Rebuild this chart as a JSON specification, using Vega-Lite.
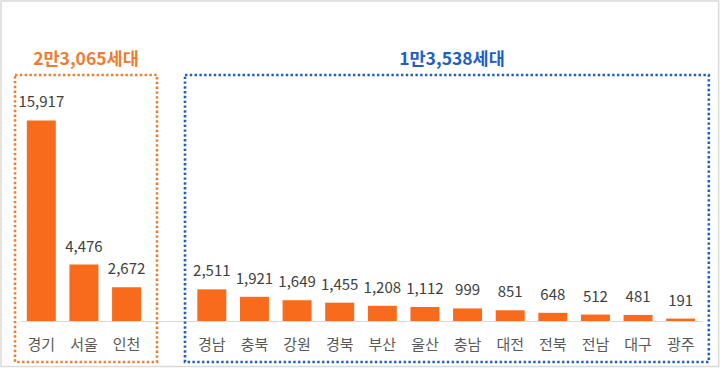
{
  "$schema": "https://vega.github.io/schema/vega-lite/v6.json",
  "autosize": {"type": "none"},
  "width": 682,
  "height": 252,
  "padding": {"left": 20, "top": 69, "right": 18, "bottom": 47},
  "background": "white",
  "config": {
    "view": {"stroke": null},
    "font": "Noto Sans CJK KR"
  },
  "datasets": {
    "bars": [
      {"region": "경기", "households": 15917},
      {"region": "서울", "households": 4476},
      {"region": "인천", "households": 2672},
      {"region": "경남", "households": 2511},
      {"region": "충북", "households": 1921},
      {"region": "강원", "households": 1649},
      {"region": "경북", "households": 1455},
      {"region": "부산", "households": 1208},
      {"region": "울산", "households": 1112},
      {"region": "충남", "households": 999},
      {"region": "대전", "households": 851},
      {"region": "전북", "households": 648},
      {"region": "전남", "households": 512},
      {"region": "대구", "households": 481},
      {"region": "광주", "households": 191}
    ],
    "groups": [
      {"group": "수도권", "x0": -0.117, "x1": 3.214, "y0": -3254, "y1": 19524, "tx": 1.548, "ty": 20714, "title": "2만3,065세대"},
      {"group": "지방", "x0": 3.871, "x1": 16.16, "y0": -3254, "y1": 19524, "tx": 10.135, "ty": 20714, "title": "1만3,538세대"}
    ],
    "frame": [
      {"x0": -0.446, "x1": 16.39, "y0": -3611, "y1": 25397}
    ]
  },
  "layer": [
    {
      "layer": [
        {
          "data": {"name": "bars"},
          "mark": {"type": "bar", "color": "#F96B1C"},
          "encoding": {
            "x": {
              "field": "region",
              "type": "nominal",
              "sort": null,
              "scale": {
                "domain": ["경기", "서울", "인천", " ", "경남", "충북", "강원", "경북", "부산", "울산", "충남", "대전", "전북", "전남", "대구", "광주"],
                "paddingInner": 0.32,
                "paddingOuter": 0.16
              },
              "axis": {
                "title": null,
                "labelAngle": 0,
                "ticks": false,
                "domainColor": "#d9d9d9",
                "domainWidth": 1,
                "labelFontSize": 15,
                "labelColor": "#595959",
                "labelPadding": 16,
                "labelFont": "Noto Sans CJK KR"
              }
            },
            "y": {
              "field": "households",
              "type": "quantitative",
              "scale": {"domain": [0, 20000]},
              "axis": null
            }
          }
        },
        {
          "data": {"name": "bars"},
          "mark": {"type": "text", "baseline": "middle", "dy": -18, "fontSize": 15, "color": "#404040", "font": "Noto Sans CJK KR"},
          "encoding": {
            "x": {
              "field": "region",
              "type": "nominal",
              "sort": null
            },
            "y": {"field": "households", "type": "quantitative"},
            "text": {"field": "households", "type": "quantitative", "format": ","}
          }
        }
      ]
    },
    {
      "layer": [
        {
          "data": {"name": "frame"},
          "mark": {"type": "rect", "fill": null, "stroke": "#d9d9d9", "strokeWidth": 1.5},
          "encoding": {
            "x": {"field": "x0", "type": "quantitative", "scale": {"domain": [0, 16]}, "axis": null},
            "x2": {"field": "x1"},
            "y": {"field": "y0", "type": "quantitative", "scale": {"domain": [0, 20000]}, "axis": null},
            "y2": {"field": "y1"}
          }
        },
        {
          "data": {"name": "groups"},
          "mark": {"type": "rect", "fill": null, "strokeWidth": 2.6, "strokeDash": [2.4, 2.4]},
          "encoding": {
            "x": {"field": "x0", "type": "quantitative"},
            "x2": {"field": "x1"},
            "y": {"field": "y0", "type": "quantitative"},
            "y2": {"field": "y1"},
            "stroke": {
              "field": "group",
              "type": "nominal",
              "scale": {"domain": ["수도권", "지방"], "range": ["#ED7D31", "#1F5FC4"]},
              "legend": null
            }
          }
        },
        {
          "data": {"name": "groups"},
          "mark": {"type": "text", "baseline": "middle", "align": "center", "fontSize": 17.5, "fontWeight": "bold", "font": "Noto Sans CJK KR"},
          "encoding": {
            "x": {"field": "tx", "type": "quantitative"},
            "y": {"field": "ty", "type": "quantitative"},
            "text": {"field": "title", "type": "nominal"},
            "color": {
              "field": "group",
              "type": "nominal",
              "scale": {"domain": ["수도권", "지방"], "range": ["#ED7D31", "#1F5FC4"]},
              "legend": null
            }
          }
        }
      ]
    }
  ],
  "resolve": {"scale": {"x": "independent", "y": "independent"}, "axis": {"x": "independent", "y": "independent"}}
}
